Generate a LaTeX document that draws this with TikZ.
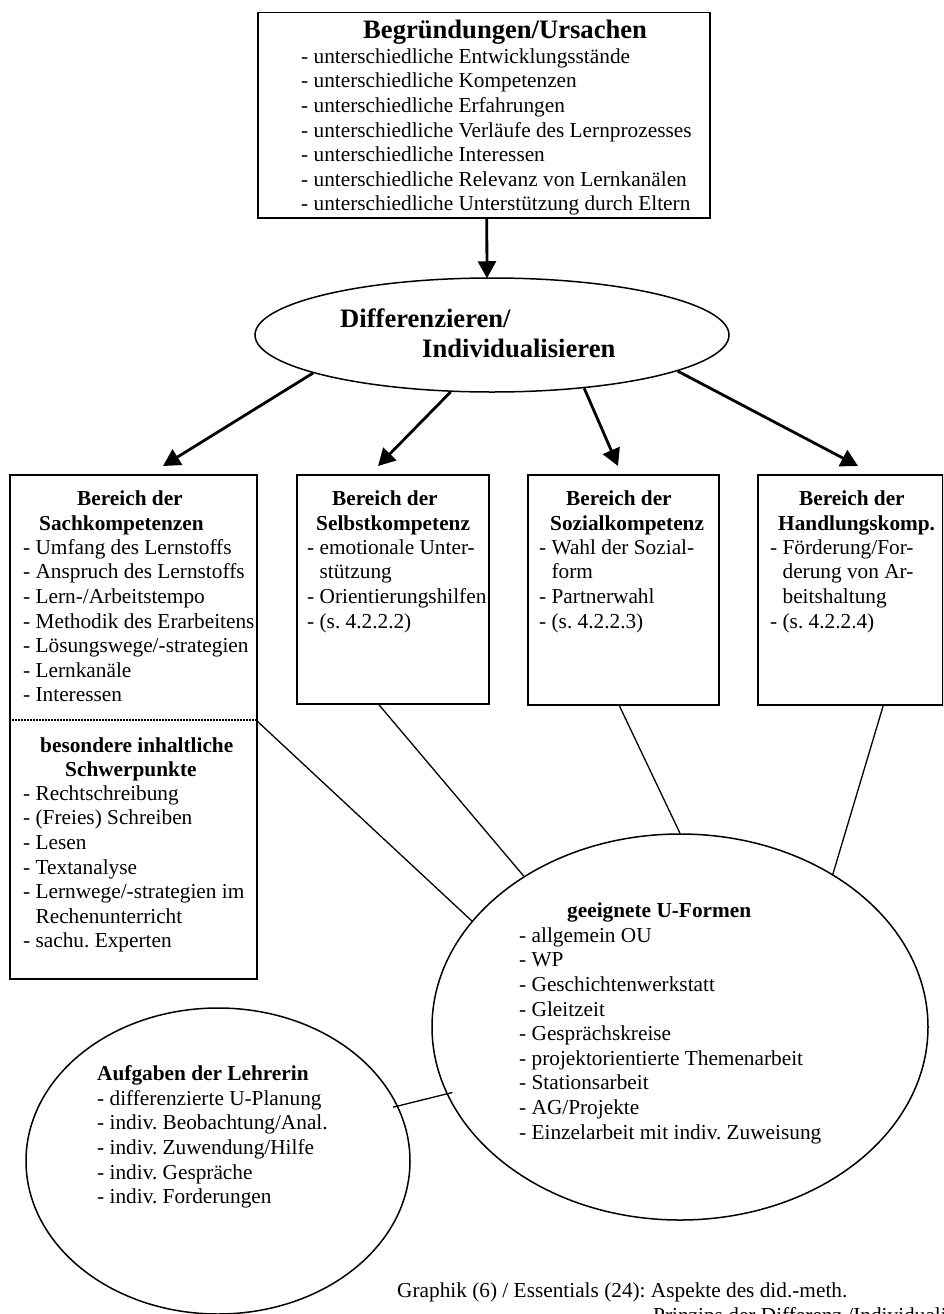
\documentclass[tikz,border=0pt]{standalone}
\usepackage{fontspec}
\setmainfont{Liberation Serif}
\usetikzlibrary{arrows.meta,shapes.geometric,calc}
\newcommand\bodyf{\fontsize{21.3}{24.6}\selectfont\frenchspacing}
\newcommand\bigf{\fontsize{26.6}{30}\selectfont\bfseries}
\newcommand\fs{\rule{0pt}{20pt}}
\frenchspacing
\begin{document}
\begin{tikzpicture}[x=1pt,y=-1pt,
 box/.style={draw, line width=1.5pt, rectangle, inner sep=0pt, anchor=north west},
 oval/.style={draw, line width=1.5pt, ellipse, inner sep=0pt},
 arr/.style={line width=2.8pt, -{Triangle[length=17pt,width=18pt]}},
 link/.style={line width=1.3pt},
 txt/.style={anchor=north west, inner sep=0pt, align=left, font=\bodyf},
 ttl/.style={anchor=base west, inner sep=0pt, font=\bodyf\bfseries},
 big/.style={anchor=base west, inner sep=0pt, font=\bigf},
 foot/.style={anchor=base west, inner sep=0pt, font=\bodyf},
]
\useasboundingbox (0,0) rectangle (943,1314);
\clip (0,0) rectangle (943,1314);
\fill[white] (0,0) rectangle (943,1314);

% top box
\node[box, minimum width=452pt, minimum height=205pt] (top) at (257,12) {};
\node[big] (topT) at (363,39) {Begründungen/Ursachen};
\node[txt] (topL) at (301,43) {\fs- unterschiedliche Entwicklungsstände\\- unterschiedliche Kompetenzen\\- unterschiedliche Erfahrungen\\- unterschiedliche Verläufe des Lernprozesses\\- unterschiedliche Interessen\\- unterschiedliche Relevanz von Lernkanälen\\- unterschiedliche Unterstützung durch Eltern};

% central ellipse
\node[oval, minimum width=474pt, minimum height=114pt] (diff) at (492,335) {};
\node[big] (d1) at (340,327) {Differenzieren/};
\node[big] (d2) at (422,357) {Individualisieren};

\draw[arr] ($(top.south)+(3,0)$) -- ($(diff.north)+(-5,1)$);

% boxes
\node[box, minimum width=247pt, minimum height=504pt] (sach) at (9,474) {};
\node[box, minimum width=192pt, minimum height=229pt] (selbst) at (296,474) {};
\node[box, minimum width=191pt, minimum height=230pt] (sozial) at (527,474) {};
\node[box, minimum width=185pt, minimum height=230pt] (handl) at (757,474) {};

\coordinate (a1) at (163,466);
\coordinate (a2) at (378,466);
\coordinate (a3) at (618,466);
\coordinate (a4) at (858,466);
\draw[arr] (diff.192) -- (a1);
\draw[arr] (diff.234) -- (a2);
\draw[arr] (diff.330) -- (a3);
\draw[arr] (diff.349) -- (a4);

% Sachkompetenzen
\node[ttl] (s1) at (77,505) {Bereich der};
\node[ttl] (s2) at (39,530) {Sachkompetenzen};
\node[txt] (s3) at (23,534) {\fs- Umfang des Lernstoffs\\- Anspruch des Lernstoffs\\- Lern-/Arbeitstempo\\- Methodik des Erarbeitens\\- Lösungswege/-strategien\\- Lernkanäle\\- Interessen};
\coordinate (divL) at (9,720);
\coordinate (divR) at (256,720);
\draw[line width=1.5pt, dash pattern=on 1.5pt off 1.5pt] (divL) -- (divR);
\node[ttl] (s4) at (40,752) {besondere inhaltliche};
\node[ttl] (s5) at (65,776) {Schwerpunkte};
\node[txt] (s6) at (23,780) {\fs- Rechtschreibung\\- (Freies) Schreiben\\- Lesen\\- Textanalyse\\- Lernwege/-strategien im\\\hphantom{- }Rechenunterricht\\- sachu. Experten};

% Selbstkompetenz
\node[ttl] (b1) at (332,505) {Bereich der};
\node[ttl] (b2) at (316,530) {Selbstkompetenz};
\node[txt] (b3) at (307,534) {\fs- emotionale Unter-\\\hphantom{- }stützung\\- Orientierungshilfen\\- (s. 4.2.2.2)};

% Sozialkompetenz
\node[ttl] (c1) at (566,505) {Bereich der};
\node[ttl] (c2) at (550,530) {Sozialkompetenz};
\node[txt] (c3) at (539,534) {\fs- Wahl der Sozial-\\\hphantom{- }form\\- Partnerwahl\\- (s. 4.2.2.3)};

% Handlungskompetenz
\node[ttl] (h1) at (799,505) {Bereich der};
\node[ttl] (h2) at (778,530) {Handlungskomp.};
\node[txt] (h3) at (770,534) {\fs- Förderung/For-\\\hphantom{- }derung von Ar-\\\hphantom{- }beitshaltung\\- (s. 4.2.2.4)};

% U-Formen
\node[oval, minimum width=496pt, minimum height=386pt] (uf) at (680,1027) {};
\node[ttl] (u1) at (567,917) {geeignete U-Formen};
\node[txt] (u2) at (519,922) {\fs- allgemein OU\\- WP\\- Geschichtenwerkstatt\\- Gleitzeit\\- Gesprächskreise\\- projektorientierte Themenarbeit\\- Stationsarbeit\\- AG/Projekte\\- Einzelarbeit mit indiv. Zuweisung};

% Aufgaben
\node[oval, minimum width=384pt, minimum height=306pt] (auf) at (218,1161) {};
\node[ttl] (l1) at (97,1080) {Aufgaben der Lehrerin};
\node[txt] (l2) at (97,1085) {\fs- differenzierte U-Planung\\- indiv. Beobachtung/Anal.\\- indiv. Zuwendung/Hilfe\\- indiv. Gespräche\\- indiv. Forderungen};

% links
\draw[link] (divR) -- (uf.153);
\draw[link] ($(selbst.south)+(-14,0)$) -- (uf.136);
\draw[link] ($(sozial.south)+(-4,0)$) -- (uf.90);
\draw[link] ($(handl.south)+(33,0)$) -- (uf.45);
\draw[link, shorten <=-5pt, shorten >=-6pt] (auf.17) -- (uf.196);

% footer
\node[foot] (f1) at (397,1297) {Graphik (6) / Essentials (24): Aspekte des did.-meth.};
\node[foot] (f2) at (653,1322) {Prinzips der Differenz./Individualisierung};
\end{tikzpicture}
\end{document}
